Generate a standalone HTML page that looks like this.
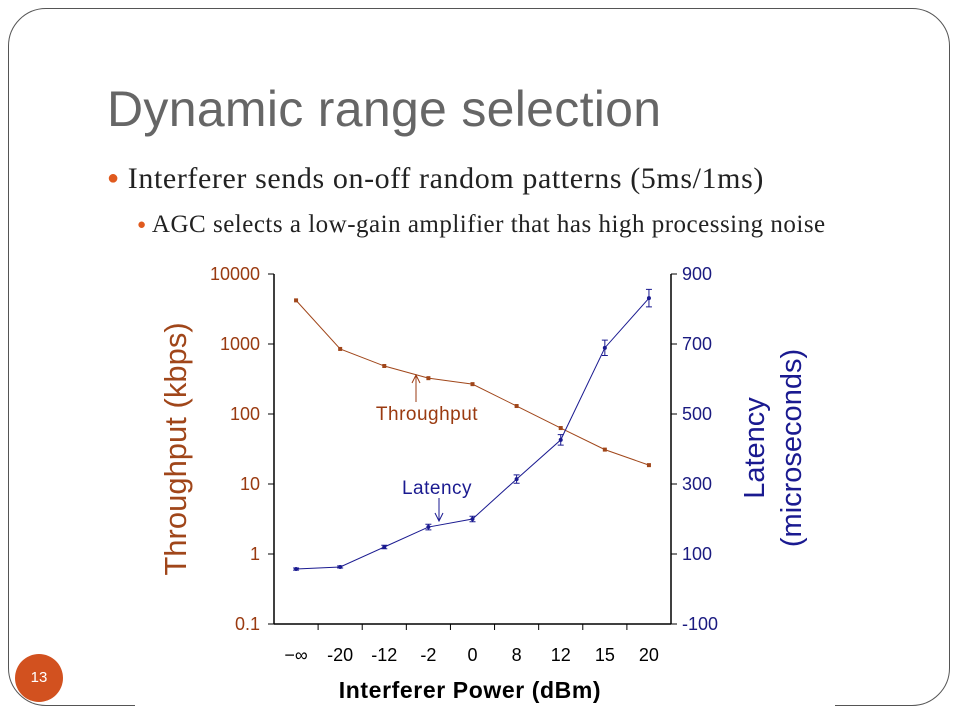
<!DOCTYPE html>
<html><head><meta charset="utf-8"><style>
body{margin:0;width:960px;height:720px;background:#fff;overflow:hidden;position:relative;font-family:"Liberation Sans",sans-serif}
.frame{position:absolute;left:8px;top:8px;width:942px;height:698px;border:1.5px solid #555;border-radius:38px;box-sizing:border-box}
.gap{position:absolute;left:135px;top:700px;width:700px;height:12px;background:#fff}
</style></head><body>
<div class="frame"></div>
<div class="gap"></div>
<div style="position:absolute;left:107px;top:80px;font-size:50px;color:#666;letter-spacing:0.3px">Dynamic range selection</div>
<div style="position:absolute;left:107px;top:162px;font:30px 'Liberation Serif',serif;color:#222;letter-spacing:0.6px;white-space:nowrap"><span style="color:#e05a1e;font-size:20px;vertical-align:4px">●</span> Interferer sends on-off random patterns (5ms/1ms)</div>
<div style="position:absolute;left:137px;top:211px;font:25px 'Liberation Serif',serif;color:#222;letter-spacing:0.5px;white-space:nowrap"><span style="color:#e05a1e;font-size:15px;vertical-align:3px">●</span> AGC selects a low-gain amplifier that has high processing noise</div>
<div style="position:absolute;left:15px;top:654px;width:48px;height:48px;border-radius:50%;background:#d2511f;color:#fff;font-size:15px;text-align:center;line-height:48px">13</div>
<svg id="chart" width="960" height="720" style="position:absolute;left:0;top:0"></svg>
<script>
const categories=["−∞","-20","-12","-2","0","8","12","15","20"];
const throughput=[4200,850,485,325,267,130,63,31,18.6];
const latency=[57,63,120,177,200,314,426,689,831];
const latencyErr=[3,3,5,8,8,12,15,22,25];
const leftTicks=[10000,1000,100,10,1,0.1];
const rightTicks=[900,700,500,300,100,-100];
const NS="http://www.w3.org/2000/svg";
const svg=document.getElementById('chart');
const X0=274,X1=671,Y0=274,Y1=624;
const bw=(X1-X0)/categories.length;
const xs=i=>X0+bw*(i+0.5);
const yL=v=>Y0+(4-Math.log10(v))*(Y1-Y0)/5;
const yR=v=>Y0+(900-v)*(Y1-Y0)/1000;
function mk(t,a,txt){const e=document.createElementNS(NS,t);for(const k in a)e.setAttribute(k,a[k]);if(txt!==undefined)e.textContent=txt;svg.appendChild(e);return e;}
let e;
e=mk('line',{x1:X0,y1:Y0,x2:X0,y2:Y1,stroke:'#000','stroke-width':1.5});


e=mk('line',{x1:X1,y1:Y0,x2:X1,y2:Y1,stroke:'#000','stroke-width':1.5});


e=mk('line',{x1:X0,y1:Y1,x2:X1,y2:Y1,stroke:'#000','stroke-width':1.5});


leftTicks.forEach(v=>{const y=yL(v);mk('line',{x1:X0-6,y1:y,x2:X0,y2:y,stroke:'#000'});
e=mk('text',{x:X0-14,y:y+6,'text-anchor':'end','font-size':18,fill:'#9a3a10'},String(v));

});
rightTicks.forEach(v=>{const y=yR(v);mk('line',{x1:X1,y1:y,x2:X1+6,y2:y,stroke:'#000'});
e=mk('text',{x:X1+11,y:y+6,'font-size':18,fill:'#1a1a80'},String(v));

});
categories.forEach((c,i)=>{if(i>0)mk('line',{x1:X0+bw*i,y1:Y1,x2:X0+bw*i,y2:Y1+6,stroke:'#000'});
e=mk('text',{x:xs(i),y:Y1+37,'text-anchor':'middle','font-size':18,fill:'#000'},c);

});
e=mk('polyline',{points:throughput.map((v,i)=>xs(i)+','+yL(v)).join(' '),fill:'none',stroke:'#a0461a','stroke-width':1});


throughput.forEach((v,i)=>{e=mk('rect',{x:xs(i)-2,y:yL(v)-2,width:4,height:4,fill:'#a0461a'});

});
e=mk('polyline',{points:latency.map((v,i)=>xs(i)+','+yR(v)).join(' '),fill:'none',stroke:'#1a1a90','stroke-width':1});


latency.forEach((v,i)=>{const x=xs(i),a=yR(v+latencyErr[i]),b=yR(v-latencyErr[i]);
mk('path',{d:`M${x},${a}V${b}M${x-3},${a}H${x+3}M${x-3},${b}H${x+3}`,stroke:'#1a1a90',fill:'none'});
e=mk('circle',{cx:x,cy:yR(v),r:2,fill:'#1a1a90'});

});
e=mk('text',{x:427,y:420,'text-anchor':'middle','font-size':19,fill:'#9a3a10','letter-spacing':'0.5'},'Throughput');


mk('path',{d:'M416,402V376M412,383L416,375L420,383',stroke:'#9a3a10',fill:'none'});
e=mk('text',{x:437,y:494,'text-anchor':'middle','font-size':19,fill:'#1a1a90','letter-spacing':'0.5'},'Latency');


mk('path',{d:'M439,498V520M435,513L439,521L443,513',stroke:'#1a1a90',fill:'none'});
e=mk('text',{transform:'translate(186,449) rotate(-90)','text-anchor':'middle','font-size':31,fill:'#a0461a'},'Throughput (kbps)');


e=mk('text',{transform:'translate(764,448) rotate(-90)','text-anchor':'middle','font-size':29,fill:'#1a1a90'},'Latency');


e=mk('text',{transform:'translate(801,448) rotate(-90)','text-anchor':'middle','font-size':29,fill:'#1a1a90'},'(microseconds)');


e=mk('text',{x:470,y:698,'text-anchor':'middle','font-size':23,'font-weight':'bold',fill:'#000','letter-spacing':'0.6'},'Interferer Power (dBm)');


</script>
</body></html>
